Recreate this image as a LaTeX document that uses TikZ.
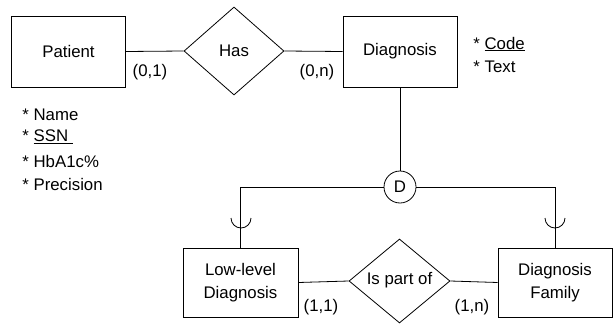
\documentclass[tikz,border=0pt]{standalone}
\usepackage{fontspec}
\setmainfont{Liberation Sans}
\usetikzlibrary{shapes.geometric}
\begin{document}
\begin{tikzpicture}[x=1pt,y=1pt,
  font=\fontsize{16.8}{22.5}\selectfont,
  line width=0.8pt,
  entity/.style={draw, rectangle, inner sep=0pt, align=center, minimum width=114pt, minimum height=71pt},
  rel/.style={draw, diamond, inner sep=0pt},
  card/.style={inner sep=0pt},
  attr/.style={anchor=west, inner sep=0pt}]
\useasboundingbox (0,0) rectangle (613,325);
% entities
\node[entity] (patient) at (68.5,273.5) {Patient};
\node[entity] (diag) at (400,273.5) {Diagnosis};
\node[entity, minimum width=115pt, minimum height=69pt] (low) at (240.5,42.5) {Low-level\\Diagnosis};
\node[entity, minimum width=114pt, minimum height=69pt] (fam) at (555,42.5) {Diagnosis\\Family};
% relationships
\node[rel, minimum width=100pt, minimum height=88pt] (has) at (234,274) {};
\node[inner sep=0pt] (hastxt) at (has) {Has};
\node[rel, minimum width=101pt, minimum height=84pt] (part) at (399.5,44) {};
\node[inner sep=0pt] (parttxt) at (399.5,45) {Is part of};
% disjoint circle
\node[draw, circle, minimum size=32pt, inner sep=0pt] (dj) at (400,138) {D};
% connectors
\draw (patient.east) -- (has.west);
\draw (has.east) -- (diag.west);
\draw (diag.south) -- (dj.north);
\draw (dj.west) -| (low.north);
\draw (dj.east) -| (fam.north);
\draw (low.east) -- (part.west);
\draw (part.east) -- (fam.west);
% subset symbols
\coordinate (s1) at (241,107);
\coordinate (s2) at (555,107);
\draw ([xshift=-10pt]s1) arc[start angle=180, end angle=360, radius=10pt];
\draw ([xshift=-10pt]s2) arc[start angle=180, end angle=360, radius=10pt];
% cardinalities
\node[card] (c1) at (150,253) {(0,1)};
\node[card] (c2) at (317,253) {(0,n)};
\node[card] (c3) at (321,18) {(1,1)};
\node[card] (c4) at (472,18) {(1,n)};
% attributes
\node[attr] (a1) at (473,281) {* \underline{Code}};
\node[attr] (a2) at (473,258) {* Text};
\node[attr] (p1) at (22,210) {* Name};
\node[attr] (p2) at (22,188) {* \underline{SSN\ }};
\node[attr] (p3) at (22,164) {* HbA1c\%};
\node[attr] (p4) at (22,141) {* Precision};
\end{tikzpicture}
\end{document}
